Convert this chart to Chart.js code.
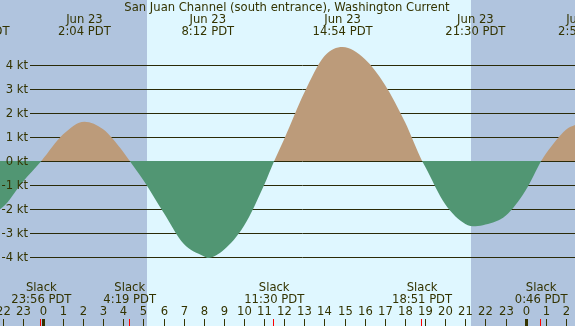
<!DOCTYPE html>
<html>
<head>
<meta charset="utf-8">
<script src="https://cdn.jsdelivr.net/npm/chart.js@4.4.1/dist/chart.umd.min.js"></script>
<style>
  html, body { margin: 0; padding: 0; background: #fff; }
  #wrap { width: 575px; height: 326px; }
</style>
</head>
<body>
<div id="wrap"><canvas id="currentChart" width="575" height="326"></canvas></div>
<script>
// ========= Data =========
const title = "San Juan Channel (south entrance), Washington Current";

// time in hours from midnight Jun 23, current speed in knots (flood +, ebb -)
const hours = [-3.15, -2, -1, -0.07, 1, 2.07, 3, 4, 4.32, 5, 6, 7, 8, 8.2, 9, 10, 11, 11.5,
  12, 13, 14, 14.9, 16, 17, 18, 18.85, 19, 20, 21, 21.5, 22, 23, 24, 24.77, 25, 26, 26.45, 26.92];
const knots = [-2.35, -1.93, -0.87, 0, 1.1, 1.64, 1.32, 0.38, 0, -0.8, -2.15, -3.45, -3.97, -4.04, -3.7, -2.7, -1.0, 0,
  0.92, 2.85, 4.37, 4.75, 4.25, 3.18, 1.62, 0, -0.23, -1.8, -2.62, -2.72, -2.65, -2.28, -1.22, 0, 0.3, 1.3, 1.5, 1.6];

// max / min events (top labels)
const eventHours = [-3.15, 2.07, 8.2, 14.9, 21.5, 26.92];
const eventDates = ["Jun 22", "Jun 23", "Jun 23", "Jun 23", "Jun 23", "Jun 24"];
const eventTimes = ["20:51 PDT", "2:04 PDT", "8:12 PDT", "14:54 PDT", "21:30 PDT", "2:55 PDT"];

// slack water (bottom labels)
const slackHours = [-0.07, 4.32, 11.5, 18.85, 24.77];
const slackTimes = ["23:56 PDT", "4:19 PDT", "11:30 PDT", "18:51 PDT", "0:46 PDT"];

// hour ticks along the bottom
const tickHours = [-2, -1, 0, 1, 2, 3, 4, 5, 6, 7, 8, 9, 10, 11, 12, 13, 14, 15, 16, 17, 18, 19, 20, 21, 22, 23, 24, 25, 26];
const tickLabels = ["22", "23", "0", "1", "2", "3", "4", "5", "6", "7", "8", "9", "10", "11", "12", "13", "14", "15", "16",
  "17", "18", "19", "20", "21", "22", "23", "0", "1", "2"];

// grid levels on the speed axis
const knotLevels = [4, 3, 2, 1, 0, -1, -2, -3, -4];

// daylight (sunrise / sunset)
const sunrise = 5.18;
const sunset = 21.3;

// ========= Styles =========
const NIGHT = "#B0C4DE";
const DAY = "#DFF7FF";
const FLOOD = "#BC9B7A";
const EBB = "#519673";
const INK = "#333300";
const GRID = "#2A2A08";
const FONT = "11.6px 'DejaVu Sans'";

// ========= Plugin for backdrop, grid and labels =========
const tideDecor = {
  id: "tideDecor",
  beforeDatasetsDraw(chart) {
    const { ctx, scales: { x, y }, width, height } = chart;
    ctx.save();
    // night / day bands
    ctx.fillStyle = NIGHT;
    ctx.fillRect(0, 0, width, height);
    const xr = Math.round(x.getPixelForValue(sunrise));
    const xs = Math.round(x.getPixelForValue(sunset));
    ctx.fillStyle = DAY;
    ctx.fillRect(xr, 0, xs - xr, height);

    // horizontal grid lines
    ctx.strokeStyle = GRID;
    ctx.lineWidth = 1;
    knotLevels.forEach(k => {
      const py = Math.round(y.getPixelForValue(k)) + 0.5;
      ctx.beginPath();
      ctx.moveTo(30, py);
      ctx.lineTo(width, py);
      ctx.stroke();
    });
    ctx.restore();
  },
  afterDraw(chart) {
    const { ctx, scales: { x, y }, width, height } = chart;
    ctx.save();
    ctx.font = FONT;
    ctx.fillStyle = INK;
    ctx.textBaseline = "middle";

    // y labels
    ctx.textAlign = "right";
    knotLevels.forEach(k => {
      ctx.fillText(k + " kt", 28, Math.round(y.getPixelForValue(k)) + 0.5);
    });

    // title
    ctx.textAlign = "center";
    ctx.fillText(title, 287, 8);

    // events at top
    eventHours.forEach((h, i) => {
      const px = x.getPixelForValue(h);
      ctx.fillText(eventDates[i], px, 20);
      ctx.fillText(eventTimes[i], px, 32);
    });

    // slack labels
    slackHours.forEach((h, i) => {
      const px = x.getPixelForValue(h);
      ctx.fillText("Slack", px, 288);
      ctx.fillText(slackTimes[i], px, 300);
    });

    // hour labels + tick marks
    tickHours.forEach((h, i) => {
      const px = Math.round(x.getPixelForValue(h));
      ctx.fillStyle = INK;
      ctx.fillText(tickLabels[i], px + 0.5, 312);
      const midnight = tickLabels[i] === "0";
      ctx.fillRect(midnight ? px - 1 : px, 319, midnight ? 3 : 1, height - 319);
    });

    // slack ticks in red
    ctx.fillStyle = "#FF0000";
    slackHours.forEach(h => {
      const px = Math.round(x.getPixelForValue(h));
      ctx.fillRect(px - 1, 319, 1, height - 319);
    });
    ctx.restore();
  }
};

// ========= Chart =========
const ctx = document.getElementById("currentChart").getContext("2d");
const currentChart = new Chart(ctx, {
  type: "line",
  data: {
    datasets: [{
      label: "Current (kt)",
      data: hours.map((h, i) => ({ x: h, y: knots[i] })),
      borderWidth: 0,
      borderColor: "rgba(0,0,0,0)",
      pointRadius: 0,
      cubicInterpolationMode: "monotone",
      fill: { target: "origin", above: FLOOD, below: EBB }
    }]
  },
  options: {
    responsive: false,
    animation: false,
    layout: { padding: 0 },
    plugins: { legend: { display: false }, tooltip: { enabled: false } },
    scales: {
      x: { type: "linear", display: false, min: -2.127, max: 26.45 },
      y: { display: false, min: -6.875, max: 6.708 }
    }
  },
  plugins: [tideDecor]
});
</script>
</body>
</html>
